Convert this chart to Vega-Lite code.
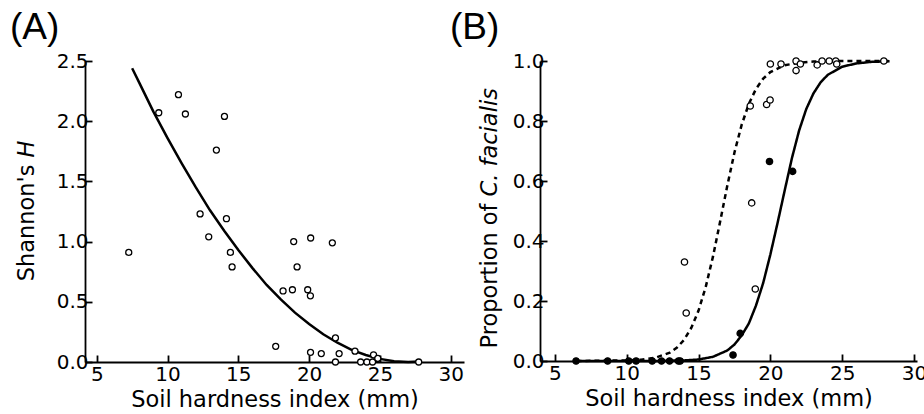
{
  "$schema": "https://vega.github.io/schema/vega-lite/v6.json",
  "padding": {"left": 10, "top": 9, "right": 0, "bottom": 0},
  "background": "white",
  "spacing": -14,
  "resolve": {
    "scale": {"x": "independent", "y": "independent", "fill": "independent", "strokeDash": "independent"},
    "legend": {"fill": "independent", "strokeDash": "independent"}
  },
  "config": {
    "view": {"stroke": null},
    "font": "DejaVu Sans",
    "axis": {
      "grid": false,
      "zindex": 1,
      "domainColor": "black",
      "domainWidth": 1.8,
      "tickColor": "black",
      "tickWidth": 1.8,
      "tickSize": -7,
      "labelFont": "DejaVu Sans",
      "labelFontSize": 20,
      "labelColor": "black",
      "titleFont": "DejaVu Sans",
      "titleFontSize": 22.5,
      "titleFontWeight": "normal",
      "titleColor": "black"
    },
    "legend": {"zindex": 2},
    "title": {"font": "Liberation Sans", "fontSize": 37, "fontWeight": "normal", "color": "black", "anchor": "start", "frame": "group"}
  },
  "datasets": {
    "pointsA": [
      {"x": 7.26, "H": 0.91}, {"x": 9.38, "H": 2.07}, {"x": 10.77, "H": 2.22}, {"x": 11.26, "H": 2.06},
      {"x": 12.30, "H": 1.23}, {"x": 12.91, "H": 1.04}, {"x": 13.45, "H": 1.76}, {"x": 14.02, "H": 2.04},
      {"x": 14.16, "H": 1.19}, {"x": 14.44, "H": 0.91}, {"x": 14.56, "H": 0.79}, {"x": 17.64, "H": 0.13},
      {"x": 18.16, "H": 0.59}, {"x": 18.82, "H": 0.60}, {"x": 18.91, "H": 1.00}, {"x": 19.15, "H": 0.79},
      {"x": 19.90, "H": 0.60}, {"x": 20.09, "H": 0.55}, {"x": 20.11, "H": 1.03}, {"x": 20.10, "H": 0.08},
      {"x": 20.86, "H": 0.07}, {"x": 21.64, "H": 0.99}, {"x": 21.86, "H": 0.20}, {"x": 21.86, "H": 0.00},
      {"x": 22.12, "H": 0.07}, {"x": 23.24, "H": 0.09}, {"x": 23.64, "H": 0.00}, {"x": 24.08, "H": 0.00},
      {"x": 24.48, "H": 0.00}, {"x": 24.55, "H": 0.06}, {"x": 24.85, "H": 0.03}, {"x": 27.74, "H": 0.00}
    ],
    "curveA": [
      {"x": 7.5, "H": 2.44}, {"x": 8, "H": 2.32}, {"x": 9, "H": 2.08}, {"x": 10, "H": 1.86},
      {"x": 11, "H": 1.65}, {"x": 12, "H": 1.45}, {"x": 13, "H": 1.26}, {"x": 14, "H": 1.09},
      {"x": 15, "H": 0.93}, {"x": 16, "H": 0.78}, {"x": 17, "H": 0.64}, {"x": 18, "H": 0.52},
      {"x": 19, "H": 0.41}, {"x": 20, "H": 0.315}, {"x": 21, "H": 0.23}, {"x": 22, "H": 0.16},
      {"x": 23, "H": 0.10}, {"x": 24, "H": 0.058}, {"x": 25, "H": 0.026}, {"x": 26, "H": 0.007},
      {"x": 27, "H": 0.0}, {"x": 27.8, "H": 0.004}
    ],
    "pointsB": [
      {"x": 14.02, "p": 0.33, "group": "Small & large park"},
      {"x": 14.14, "p": 0.16, "group": "Small & large park"},
      {"x": 18.60, "p": 0.85, "group": "Small & large park"},
      {"x": 18.70, "p": 0.527, "group": "Small & large park"},
      {"x": 18.95, "p": 0.24, "group": "Small & large park"},
      {"x": 19.74, "p": 0.855, "group": "Small & large park"},
      {"x": 19.98, "p": 0.87, "group": "Small & large park"},
      {"x": 20.0, "p": 0.99, "group": "Small & large park"},
      {"x": 20.74, "p": 0.99, "group": "Small & large park"},
      {"x": 21.79, "p": 1.0, "group": "Small & large park"},
      {"x": 21.79, "p": 0.968, "group": "Small & large park"},
      {"x": 22.09, "p": 0.99, "group": "Small & large park"},
      {"x": 23.26, "p": 0.987, "group": "Small & large park"},
      {"x": 23.6, "p": 1.0, "group": "Small & large park"},
      {"x": 24.1, "p": 1.0, "group": "Small & large park"},
      {"x": 24.55, "p": 1.0, "group": "Small & large park"},
      {"x": 24.62, "p": 0.99, "group": "Small & large park"},
      {"x": 27.9, "p": 1.0, "group": "Small & large park"},
      {"x": 6.47, "p": 0, "group": "Forest"},
      {"x": 8.67, "p": 0, "group": "Forest"},
      {"x": 10.14, "p": 0, "group": "Forest"},
      {"x": 10.65, "p": 0, "group": "Forest"},
      {"x": 11.77, "p": 0, "group": "Forest"},
      {"x": 12.42, "p": 0, "group": "Forest"},
      {"x": 12.98, "p": 0, "group": "Forest"},
      {"x": 13.60, "p": 0, "group": "Forest"},
      {"x": 13.72, "p": 0, "group": "Forest"},
      {"x": 17.40, "p": 0.02, "group": "Forest"},
      {"x": 17.90, "p": 0.092, "group": "Forest"},
      {"x": 19.94, "p": 0.665, "group": "Forest"},
      {"x": 21.55, "p": 0.632, "group": "Forest"}
    ],
    "curveB": [
      {"x": 6.5, "p": 0.0, "group": "Small & large park"},
      {"x": 10, "p": 0.002, "group": "Small & large park"},
      {"x": 11, "p": 0.004, "group": "Small & large park"},
      {"x": 12, "p": 0.011, "group": "Small & large park"},
      {"x": 13, "p": 0.028, "group": "Small & large park"},
      {"x": 13.5, "p": 0.045, "group": "Small & large park"},
      {"x": 14, "p": 0.071, "group": "Small & large park"},
      {"x": 14.5, "p": 0.111, "group": "Small & large park"},
      {"x": 15, "p": 0.168, "group": "Small & large park"},
      {"x": 15.5, "p": 0.247, "group": "Small & large park"},
      {"x": 16, "p": 0.347, "group": "Small & large park"},
      {"x": 16.5, "p": 0.464, "group": "Small & large park"},
      {"x": 17, "p": 0.584, "group": "Small & large park"},
      {"x": 17.5, "p": 0.695, "group": "Small & large park"},
      {"x": 18, "p": 0.787, "group": "Small & large park"},
      {"x": 18.5, "p": 0.857, "group": "Small & large park"},
      {"x": 19, "p": 0.907, "group": "Small & large park"},
      {"x": 19.5, "p": 0.941, "group": "Small & large park"},
      {"x": 20, "p": 0.963, "group": "Small & large park"},
      {"x": 21, "p": 0.986, "group": "Small & large park"},
      {"x": 22, "p": 0.994, "group": "Small & large park"},
      {"x": 23, "p": 0.998, "group": "Small & large park"},
      {"x": 25, "p": 1.0, "group": "Small & large park"},
      {"x": 28.3, "p": 1.0, "group": "Small & large park"},
      {"x": 6.5, "p": 0.0, "group": "Forest"},
      {"x": 12, "p": 0.0, "group": "Forest"},
      {"x": 14, "p": 0.002, "group": "Forest"},
      {"x": 15, "p": 0.005, "group": "Forest"},
      {"x": 16, "p": 0.014, "group": "Forest"},
      {"x": 17, "p": 0.035, "group": "Forest"},
      {"x": 17.5, "p": 0.055, "group": "Forest"},
      {"x": 18, "p": 0.085, "group": "Forest"},
      {"x": 18.5, "p": 0.125, "group": "Forest"},
      {"x": 19, "p": 0.185, "group": "Forest"},
      {"x": 19.5, "p": 0.26, "group": "Forest"},
      {"x": 20, "p": 0.355, "group": "Forest"},
      {"x": 20.5, "p": 0.46, "group": "Forest"},
      {"x": 21, "p": 0.569, "group": "Forest"},
      {"x": 21.5, "p": 0.676, "group": "Forest"},
      {"x": 22, "p": 0.768, "group": "Forest"},
      {"x": 22.5, "p": 0.84, "group": "Forest"},
      {"x": 23, "p": 0.892, "group": "Forest"},
      {"x": 23.5, "p": 0.929, "group": "Forest"},
      {"x": 24, "p": 0.954, "group": "Forest"},
      {"x": 25, "p": 0.981, "group": "Forest"},
      {"x": 26, "p": 0.992, "group": "Forest"},
      {"x": 27, "p": 0.997, "group": "Forest"},
      {"x": 28.3, "p": 0.999, "group": "Forest"}
    ]
  },
  "hconcat": [
    {
      "width": 379,
      "height": 301,
      "title": {"text": "(A)", "dx": -75},
      "layer": [
        {
          "data": {"name": "curveA"},
          "mark": {"type": "line", "color": "black", "strokeWidth": 2.5},
          "encoding": {
            "x": {"field": "x", "type": "quantitative", "scale": {"domain": [4.17, 30.94], "nice": false, "zero": false},
              "axis": {"title": "Soil hardness index (mm)", "values": [5, 10, 15, 20, 25, 30], "labelPadding": 9, "titleY": 26, "domain": true, "ticks": true}},
            "y": {"field": "H", "type": "quantitative", "scale": {"domain": [0, 2.5], "nice": false},
              "axis": {"orient": "left", "title": "Shannon's", "titleAlign": "right", "titleY": 103, "titleX": -47, "values": [0, 0.5, 1, 1.5, 2, 2.5], "format": ".1f", "labelPadding": 4, "domain": true, "ticks": true}}
          }
        },
        {
          "data": {"name": "pointsA"},
          "mark": {"type": "point", "shape": "circle", "filled": true, "fill": "white", "stroke": "black", "strokeWidth": 1.3, "size": 36, "opacity": 1},
          "encoding": {
            "x": {"field": "x", "type": "quantitative", "scale": {"domain": [4.17, 30.94], "nice": false, "zero": false}},
            "y": {"field": "H", "type": "quantitative", "scale": {"domain": [0, 2.5], "nice": false},
              "axis": {"orient": "left", "title": "H", "titleFontStyle": "italic", "titleAlign": "left", "titleY": 96, "titleX": -47, "labels": false, "ticks": false, "domain": false}}
          }
        }
      ],
      "resolve": {"axis": {"y": "independent"}}
    },
    {
      "width": 377,
      "height": 300,
      "title": {"text": "(B)", "dx": -90},
      "layer": [
        {
          "data": {"name": "curveB"},
          "mark": {"type": "line", "color": "black", "strokeWidth": 2.5},
          "encoding": {
            "x": {"field": "x", "type": "quantitative", "scale": {"domain": [3.96, 30.21], "nice": false, "zero": false},
              "axis": {"title": "Soil hardness index (mm)", "values": [5, 10, 15, 20, 25, 30], "labelPadding": 9, "titleY": 26, "domain": true, "ticks": true}},
            "y": {"field": "p", "type": "quantitative", "scale": {"domain": [0, 1], "nice": false},
              "axis": {"orient": "left", "title": "Proportion of", "titleAlign": "right", "titleY": 142, "titleX": -39, "values": [0, 0.2, 0.4, 0.6, 0.8, 1], "format": ".1f", "labelPadding": 3, "domain": true, "ticks": true}},
            "strokeDash": {"field": "group", "type": "nominal", "scale": {"domain": ["Small & large park", "Forest"], "range": [[5, 4], [1, 0]]}, "legend": null}
          }
        },
        {
          "data": {"name": "pointsB"},
          "mark": {"type": "point", "shape": "circle", "filled": true, "stroke": "black", "strokeWidth": 1.3, "size": 40, "opacity": 1},
          "encoding": {
            "x": {"field": "x", "type": "quantitative", "scale": {"domain": [3.96, 30.21], "nice": false, "zero": false}},
            "y": {"field": "p", "type": "quantitative", "scale": {"domain": [0, 1], "nice": false},
              "axis": {"orient": "left", "title": "C. facialis", "titleFontStyle": "italic", "titleAlign": "left", "titleY": 135, "titleX": -39, "labels": false, "ticks": false, "domain": false}},
            "fill": {"field": "group", "type": "nominal", "scale": {"domain": ["Small & large park", "Forest"], "range": ["white", "black"]},
              "legend": {"title": null, "orient": "none", "legendX": 22, "legendY": 4, "strokeColor": "black", "fillColor": "white", "padding": 8,
                "labelFont": "Liberation Sans", "labelFontSize": 16.5, "labelColor": "black", "labelOffset": 3,
                "symbolType": "circle", "symbolSize": 45, "symbolStrokeColor": "black", "symbolStrokeWidth": 1.3, "rowPadding": 7}}
          }
        }
      ],
      "resolve": {"axis": {"y": "independent"}}
    }
  ]
}
